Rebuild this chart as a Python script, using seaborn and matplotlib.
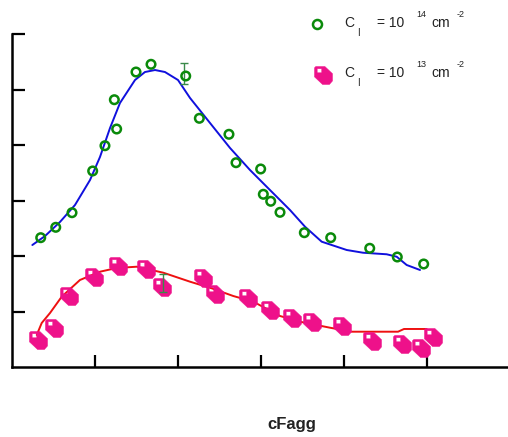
import numpy as np
import pandas as pd
import matplotlib
matplotlib.use("Agg")
import matplotlib.pyplot as plt
from matplotlib.path import Path
import seaborn as sns

# ---- data (arbitrary units) ----
green_x = [0.346, 0.527, 0.723, 0.972, 1.120, 1.261, 1.233, 1.494, 1.675, 2.093, 2.257,
           2.614, 2.699, 2.996, 3.028, 3.117, 3.229, 3.522, 3.840, 4.310, 4.642, 4.960]
green_y = [2.330, 2.517, 2.780, 3.532, 3.987, 4.288, 4.816, 5.315, 5.454, 5.243, 4.481,
           4.193, 3.681, 3.568, 3.112, 2.986, 2.787, 2.420, 2.330, 2.139, 1.982, 1.856]

pink_x = [0.310, 0.510, 0.690, 0.992, 1.281, 1.611, 1.811, 2.305, 2.446, 2.847, 3.108,
          3.377, 3.618, 3.980, 4.341, 4.695, 4.928, 5.076]
pink_y = [0.486, 0.703, 1.285, 1.622, 1.825, 1.766, 1.447, 1.598, 1.310, 1.238, 1.027,
          0.888, 0.816, 0.739, 0.474, 0.414, 0.348, 0.546]

blue_fit_x = [0.245, 0.398, 0.578, 0.759, 0.940, 1.060, 1.181, 1.301, 1.482, 1.602, 1.723,
              1.843, 2.000, 2.145, 2.386, 2.627, 2.867, 3.108, 3.349, 3.530, 3.731, 4.033,
              4.229, 4.514, 4.635, 4.755, 4.916]
blue_fit_y = [2.198, 2.360, 2.613, 2.919, 3.369, 3.784, 4.306, 4.757, 5.171, 5.315, 5.351,
              5.315, 5.171, 4.847, 4.396, 3.946, 3.550, 3.189, 2.829, 2.528, 2.258, 2.108,
              2.059, 2.031, 1.987, 1.838, 1.748]

red_fit_x = [0.298, 0.358, 0.458, 0.599, 0.819, 1.060, 1.261, 1.502, 1.823, 2.145, 2.406,
             2.666, 2.907, 3.229, 3.470, 3.831, 4.093, 4.651, 4.723, 4.996]
red_fit_y = [0.577, 0.793, 0.973, 1.267, 1.568, 1.717, 1.784, 1.807, 1.699, 1.537, 1.418,
             1.279, 1.177, 0.919, 0.816, 0.708, 0.636, 0.636, 0.685, 0.685]

# error bars (x, low, high)
green_err = (2.075, 5.099, 5.477)
pink_err = (1.815, 1.346, 1.676)

x_ticks = [1, 2, 3, 4, 5]
y_ticks = [1, 2, 3, 4, 5, 6]

GREEN = "#0a8a0a"
PINK = "#ee118a"
BLUE = "#1010dd"
RED = "#ee1010"
ERR = "#3a8a4a"

# custom "tag" marker with a white square hole (inner path wound opposite)
outer = [(-1.0, 0.85), (-0.85, 1.0), (0.15, 1.0), (1.0, 0.2), (1.0, -0.6),
         (0.65, -1.0), (-0.1, -1.0), (-1.0, -0.15), (-1.0, 0.85)]
inner = [(-0.7, 0.3), (-0.2, 0.3), (-0.2, 0.75), (-0.7, 0.75), (-0.7, 0.3)]
verts = outer + inner
codes = ([Path.MOVETO] + [Path.LINETO] * (len(outer) - 2) + [Path.CLOSEPOLY] +
         [Path.MOVETO] + [Path.LINETO] * (len(inner) - 2) + [Path.CLOSEPOLY])
tag_marker = Path(verts, codes)

sns.set_style("white")
plt.rcParams["font.family"] = ["Liberation Sans", "DejaVu Sans"]

fig = plt.figure(figsize=(5.08, 4.37), dpi=100)
W, H = 508, 437
ax = fig.add_axes([12 / W, (H - 367) / H, 496 / W, (367 - 34) / H])

blue_df = pd.DataFrame({"x": blue_fit_x, "y": blue_fit_y})
red_df = pd.DataFrame({"x": red_fit_x, "y": red_fit_y})
g_df = pd.DataFrame({"x": green_x, "y": green_y})
p_df = pd.DataFrame({"x": pink_x, "y": pink_y})

sns.lineplot(data=blue_df, x="x", y="y", sort=False, color=BLUE, lw=1.4, ax=ax)
sns.lineplot(data=red_df, x="x", y="y", sort=False, color=RED, lw=1.4, ax=ax)

ax.errorbar([green_err[0]], [(green_err[1] + green_err[2]) / 2],
            yerr=[[(green_err[2] - green_err[1]) / 2]], fmt="none",
            ecolor=ERR, elinewidth=1, capsize=3, capthick=1, zorder=2)
ax.errorbar([pink_err[0]], [(pink_err[1] + pink_err[2]) / 2],
            yerr=[[(pink_err[2] - pink_err[1]) / 2]], fmt="none",
            ecolor=ERR, elinewidth=1, capsize=3, capthick=1, zorder=4)

sns.scatterplot(data=g_df, x="x", y="y", marker="o", s=38, facecolor="none",
                edgecolor=GREEN, linewidth=1.8, ax=ax, zorder=3)
sns.scatterplot(data=p_df, x="x", y="y", marker=tag_marker, s=170, color=PINK,
                edgecolor=PINK, linewidth=0.3, ax=ax, zorder=3)

ax.set_xlim(0, 496 / 83)
ax.set_ylim(0, 6)
ax.set_xticks(x_ticks)
ax.set_yticks(y_ticks)
ax.set_xticklabels([])
ax.set_yticklabels([])
ax.set_xlabel("")
ax.set_ylabel("")
for s in ["top", "right"]:
    ax.spines[s].set_visible(False)
for s in ["left", "bottom"]:
    ax.spines[s].set_color("black")
    ax.spines[s].set_linewidth(1.8)
ax.tick_params(direction="in", length=9, width=1.6, colors="black",
               left=True, bottom=True)

# x label
fig.text(292 / W, 1 - 429 / H, "cFagg", ha="center", va="baseline",
         fontsize=12, fontweight="bold", color="#222222")

# legend (manual)
def fx(px):
    return px / W

def fy(py):
    return 1 - py / H

fig.add_artist(plt.Line2D([fx(317)], [fy(24)], marker="o", markersize=6.5,
                          markerfacecolor="none", markeredgecolor=GREEN,
                          markeredgewidth=1.8, transform=fig.transFigure))
fig.add_artist(plt.Line2D([fx(323)], [fy(75)], marker=tag_marker, markersize=13,
                          markerfacecolor=PINK, markeredgecolor=PINK,
                          markeredgewidth=0.3, transform=fig.transFigure))

rows = [(22, "14"), (72, "13")]
for yy, exp in rows:
    fig.text(fx(344), fy(yy + 5), "C", fontsize=10, ha="left", va="baseline", color="#222222")
    fig.text(fx(357), fy(yy + 14), "I", fontsize=7, ha="left", va="baseline", color="#222222")
    fig.text(fx(377), fy(yy + 5), "= 10", fontsize=10, ha="left", va="baseline", color="#222222")
    fig.text(fx(416), fy(yy - 5), exp, fontsize=6.5, ha="left", va="baseline", color="#222222")
    fig.text(fx(431), fy(yy + 5), "cm", fontsize=10, ha="left", va="baseline", color="#222222")
    fig.text(fx(457), fy(yy - 5), "-2", fontsize=6.5, ha="left", va="baseline", color="#222222")

fig.savefig("out.png", dpi=100)
